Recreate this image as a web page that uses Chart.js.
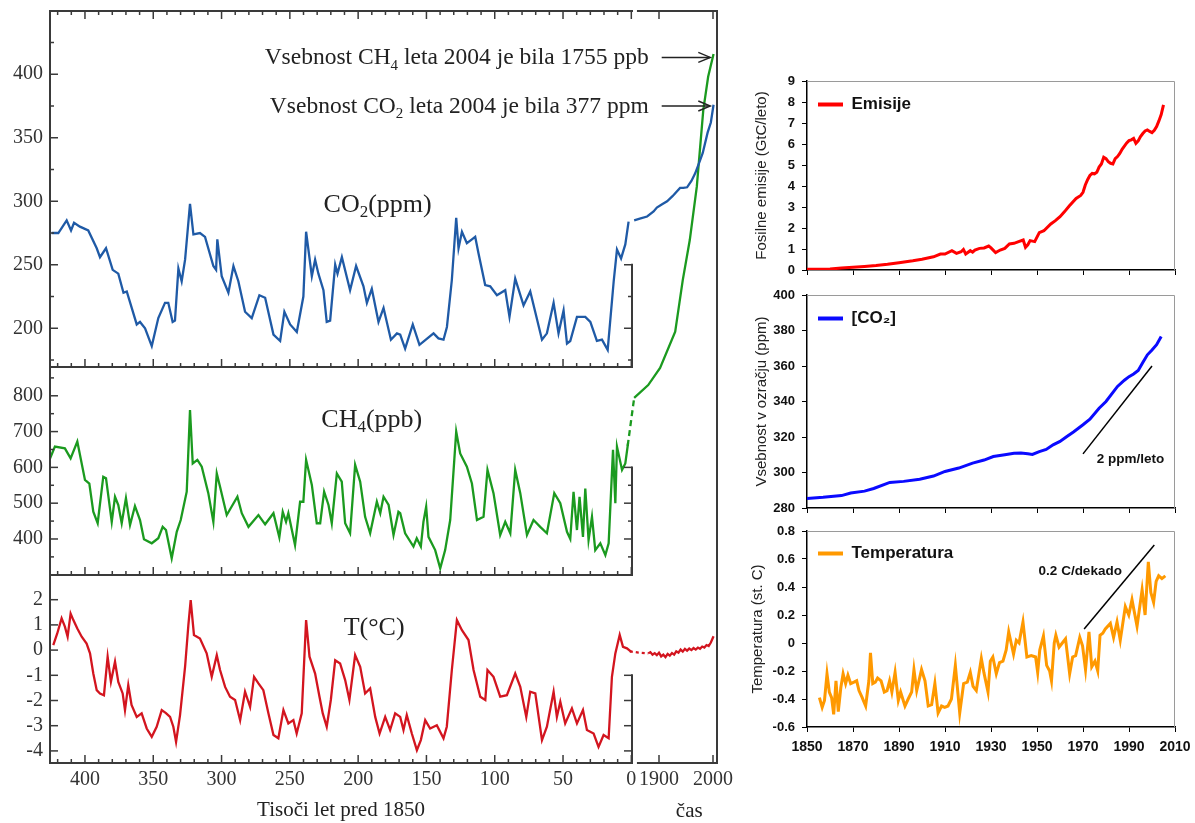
<!DOCTYPE html>
<html><head><meta charset="utf-8">
<script src="https://cdn.jsdelivr.net/npm/chart.js@4.4.1/dist/chart.umd.min.js"></script>
<style>
html,body{margin:0;padding:0;background:#fff;width:1195px;height:823px;overflow:hidden}
body{position:relative}
canvas{position:absolute}
#left{left:0;top:0;z-index:1}
#c1{left:740px;top:70px;z-index:2}
#c2{left:740px;top:280px;z-index:3}
#c3{left:740px;top:516px;z-index:4}
</style></head><body>
<canvas id="left" width="745" height="823"></canvas>
<canvas id="c1" width="455" height="215"></canvas>
<canvas id="c2" width="455" height="250"></canvas>
<canvas id="c3" width="455" height="250"></canvas>
<script>
// ---------------- DATA (left panel: ice core, [thousand years before 1850, value]) ----------------
const co2Paleo = [[424.4,275],[419.5,275],[413.4,285],[410.2,277],[408,283],[403.7,280],[397.6,277],[391.4,263],[389,256],[384.6,263],[379.7,246],[375.6,243],[371.8,228],[369.4,229],[362.1,203],[359.7,205],[356,200],[351.1,186],[346.3,208],[341.4,220],[339,220],[335.8,205],[334.1,206],[331.6,247],[329.2,237],[326.7,254],[323.1,298],[320.6,274],[315.8,275],[312.1,272],[306,249],[304,246],[303.1,270],[299.9,241],[295,228],[291.3,249],[287.7,237],[282.8,213],[277.9,208],[272.3,226],[268.1,224],[262,195],[257.1,190],[254,213],[249.8,203],[244.9,197],[240.1,225],[238.1,276],[233.9,241],[231.5,254],[229.1,243],[225.4,230],[223,205],[220.5,206],[216.8,250],[215.1,243],[211.9,256],[205.9,230],[201.5,249],[196.1,233],[193.6,220],[190,231],[185.1,205],[181.4,216],[176,191],[171.6,196],[169.2,195],[165.6,184],[160,203],[155.1,187],[144.8,196],[141.2,192],[137.5,191],[135,201],[131.4,238],[128.2,287],[126.5,263],[124,276],[120.4,267],[116.7,270],[114.3,272],[111.9,259],[107,234],[103.3,233],[98.4,226],[92.3,230],[89.2,209],[85,239],[78.9,218],[74,229],[65.4,191],[61.8,196],[56.9,220],[53.3,196],[49.6,214],[47.1,188],[44.7,190],[39.8,209],[33.7,209],[30,205],[25.2,190],[21.5,191],[17.3,183],[12.9,237],[10.5,262],[7.5,255],[4.4,266],[2,284]];
const ch4Paleo = [[425.6,625],[422,658],[414.7,653],[410.5,625],[405.6,672],[400,565],[396.8,555],[393.9,476],[390.7,444],[386.6,574],[384.6,570],[380.4,448],[378,518],[375.6,495],[373.1,444],[370,514],[367,439],[363.4,492],[359.7,453],[356.8,399],[351.1,388],[346.3,402],[343.1,434],[340.7,425],[336.5,346],[332.8,420],[329.9,453],[325.5,532],[323.1,760],[321.1,611],[317.7,621],[314.5,602],[309.7,528],[306,448],[303.5,583],[301.1,546],[296.2,467],[288.4,518],[285.2,472],[280.3,434],[273,467],[268.1,441],[262,472],[257.7,405],[255.2,476],[252.8,448],[251.1,472],[246.2,383],[242.5,504],[240.1,504],[238.1,621],[233.9,551],[230.3,444],[227.8,444],[224.9,532],[221.7,495],[219.3,444],[215.6,583],[212,560],[209.5,444],[205.9,416],[202.2,607],[198.5,560],[194.9,462],[191.2,416],[186.3,504],[183.8,472],[181.4,518],[177.7,495],[174.1,411],[170.5,476],[169.2,472],[165.6,416],[159.5,379],[157.1,402],[154.1,379],[152.2,448],[150.2,490],[148.5,406],[143.6,369],[139.9,318],[136.3,369],[132.6,453],[128.2,700],[125.3,639],[120.4,602],[116.7,555],[113,453],[108.2,462],[105.3,593],[100.9,528],[96,411],[92.3,448],[88.6,416],[85,593],[81.3,528],[76.4,411],[71.6,453],[66.7,434],[61.8,416],[56.4,528],[52,500],[47.1,420],[44.7,400],[42.3,532],[39.8,425],[37.9,518],[35.4,406],[33.7,541],[31.3,397],[28.8,462],[26.4,369],[22.7,388],[19,355],[16.6,388],[13.4,649],[11.7,500],[10.5,658],[6.8,593],[4.4,611],[2.4,667]];
const tPaleo = [[423.2,0.2],[420.3,0.66],[417.1,1.26],[414.7,0.93],[412.7,0.53],[410.5,1.45],[408.5,1.19],[405.6,0.86],[402.4,0.53],[398.8,0.26],[396.3,-0.13],[393.9,-0.93],[391.4,-1.59],[389,-1.72],[386.1,-1.79],[383.4,-0.26],[381,-1.26],[378,-0.46],[375.6,-1.26],[372.4,-1.72],[370.7,-2.38],[368.3,-1.39],[365.9,-2.18],[362.1,-2.65],[358.5,-2.51],[354.8,-3.11],[351.1,-3.44],[347.5,-3.04],[343.8,-2.38],[340.7,-2.5],[337.7,-2.65],[335.3,-3.04],[333.3,-3.64],[330.4,-2.58],[326.7,-0.66],[324.3,0.99],[322.6,1.98],[320.2,0.6],[315.8,0.46],[310.9,-0.13],[307.2,-1.06],[303.5,-0.2],[301.1,-0.79],[297.4,-1.46],[293.8,-1.85],[290.1,-1.98],[286.4,-2.78],[282.8,-1.65],[279.1,-2.25],[276.2,-1.06],[273,-1.32],[269.4,-1.59],[265.7,-2.51],[262,-3.37],[258.4,-3.5],[254.7,-2.38],[251.1,-2.91],[247.4,-2.78],[245,-3.31],[241.3,-2.51],[238.1,1.19],[235.6,-0.26],[231.5,-0.93],[228.3,-1.85],[225.9,-2.51],[223,-3.04],[220,-1.98],[216.8,-0.4],[213.2,-0.53],[209.5,-1.19],[206.4,-1.98],[202.2,-0.2],[198.5,-0.66],[194.9,-1.72],[191.2,-1.52],[187.5,-2.65],[184.3,-3.31],[180.2,-2.65],[176.6,-3.17],[172.9,-2.51],[169.2,-2.65],[166.8,-3.17],[164.4,-2.58],[160.7,-3.31],[157,-3.97],[154.1,-3.57],[150.9,-2.78],[147.3,-3.11],[142.4,-2.98],[137.5,-3.5],[135.1,-3.04],[131.4,-0.79],[127.7,1.19],[124,0.79],[119.2,0.4],[115.5,-0.79],[110.6,-1.85],[106.9,-1.98],[105.3,-0.79],[100.9,-1.06],[96,-1.85],[91.1,-1.79],[85,-0.93],[81.3,-1.46],[76.9,-2.65],[74,-1.65],[70.3,-1.72],[65.4,-3.57],[61.8,-3.04],[56.9,-1.65],[54.5,-2.65],[52,-2.05],[48.4,-2.91],[43.5,-2.31],[39.8,-2.91],[35.4,-2.38],[32.5,-3.17],[27.6,-3.31],[24,-3.84],[20.3,-3.37],[16.6,-3.5],[14.2,-1.06],[11.7,-0.13],[8.5,0.6],[6.1,0.13],[3.2,0.07],[0,-0.07]];

// left panel: instrumental era, [year, value]
const co2Modern = [[1854,285],[1866,286.5],[1878,288],[1890,292],[1896,295],[1905,297.5],[1915,300],[1925,304],[1939,310.5],[1945,310.5],[1952,311],[1960,316],[1967,322],[1975,331],[1981,338],[1990,354],[1996,362],[2001,376]];
const ch4Modern = [[1842,660],[1854,794],[1880,830],[1902,878],[1930,979],[1944,1123],[1957,1235],[1970,1384],[1982,1598],[1991,1691],[2001,1755]];
const tModern = [[1846,-0.05],[1862,-0.1],[1880,-0.13],[1884,-0.08],[1888,-0.18],[1892,-0.12],[1896,-0.2],[1900,-0.1],[1904,-0.25],[1908,-0.18],[1912,-0.28],[1916,-0.15],[1920,-0.22],[1924,-0.12],[1928,-0.18],[1932,-0.05],[1936,-0.1],[1940,0.02],[1944,-0.06],[1948,0.05],[1952,-0.02],[1956,0.06],[1960,0.0],[1964,0.08],[1968,0.02],[1972,0.1],[1976,0.05],[1980,0.14],[1984,0.1],[1988,0.2],[1992,0.16],[1996,0.3],[1998,0.4],[2001,0.55]];
const CH4_DASH_END = 1854;   // dashed connector up to this year
const T_DOT_END = 1880;      // dotted connector up to this year

// left panel ticks
const co2Ticks = [175,200,225,250,275,300,325,350,375,400,425];
const ch4Ticks = [350,400,450,500,550,600,650,700,750,800,850];
const tTicks = [-4,-3,-2,-1,0,1,2];
const paleoTicks = [0,10,20,30,40,50,60,70,80,90,100,110,120,130,140,150,160,170,180,190,200,210,220,230,240,250,260,270,280,290,300,310,320,330,340,350,360,370,380,390,400,410,420];
const modernTicks = [1900,2000];
const MODERN_AXIS_START = 1861;   // where the drawn time axis of the modern part begins
const CO2_RIGHT_TOP = 250, CH4_RIGHT_TOP = 600, T_RIGHT_TOP = -1;

// ---------------- DATA (right panels) ----------------
const emYear = [1850,1855,1860,1865,1870,1875,1880,1885,1890,1896,1900,1903,1905,1908,1910,1913,1915,1917,1918,1919,1921,1922,1923,1925,1927,1929,1930,1932,1934,1936,1938,1940,1942,1944,1945,1946,1947,1949,1951,1953,1956,1958,1960,1962,1964,1967,1969,1970,1971,1972,1973,1974,1975,1976,1977,1978,1979,1980,1981,1982,1983,1984,1985,1986,1987,1988,1989,1990,1991,1992,1993,1994,1995,1996,1997,1998,1999,2000,2001,2002,2003,2004,2005];
const emGtC = [0.03,0.04,0.05,0.09,0.13,0.17,0.21,0.27,0.35,0.44,0.51,0.58,0.63,0.76,0.76,0.92,0.79,0.87,0.98,0.76,0.92,0.85,0.95,1.03,1.05,1.14,1.05,0.83,0.95,1.03,1.24,1.27,1.35,1.43,1.08,1.2,1.4,1.35,1.78,1.87,2.19,2.35,2.54,2.78,3.05,3.41,3.55,3.7,4.05,4.3,4.5,4.6,4.58,4.65,4.9,5.05,5.37,5.3,5.16,5.08,5.05,5.3,5.4,5.55,5.75,5.9,6.05,6.16,6.2,6.27,6.03,6.15,6.35,6.5,6.62,6.67,6.6,6.54,6.65,6.83,7.1,7.4,7.86];

const co2Year = [1848,1857,1865,1869,1875,1879,1886,1892,1899,1905,1910,1916,1922,1927,1931,1936,1940,1943,1946,1948,1951,1954,1957,1960,1963,1966,1970,1973,1977,1980,1985,1988,1990,1992,1994,1996,1998,2000,2002,2004];
const co2Ppm = [285.2,286,287,288.4,289.5,291,294.4,295,296.2,298,300.6,302.5,305.3,307,309,310,310.9,311,310.5,310.2,311.8,313,315.6,317.5,320.3,323,326.9,330,336.2,340,348.5,352,354,355.5,357.5,362,366.3,369,372,376.6];
const co2TrendYear = [1970,2000], co2TrendPpm = [310.5,360];

const tempYear = [1855.4,1856.6,1857.6,1858.7,1859.7,1860.7,1861.6,1862.6,1863.6,1864.7,1865.7,1866.8,1867.8,1869.0,1870.4,1871.6,1872.6,1874.0,1875.5,1876.9,1877.6,1878.6,1879.7,1880.7,1882.2,1883.6,1884.8,1885.9,1886.9,1888.3,1889.7,1890.7,1892.6,1894.0,1895.5,1896.5,1897.7,1899.8,1901.3,1902.7,1904.2,1905.6,1907.0,1908.5,1909.9,1911.3,1912.8,1914.5,1916.4,1918.1,1919.7,1921.0,1922.2,1923.6,1925.8,1926.9,1928.7,1929.7,1930.8,1932.3,1933.7,1935.2,1936.6,1937.7,1939.8,1941.0,1942.2,1943.9,1945.6,1947.5,1949.4,1950.3,1951.2,1952.8,1954.2,1955.5,1956.3,1957.5,1958.2,1959.6,1961.0,1962.4,1964.2,1965.5,1966.8,1968.6,1969.8,1971.1,1972.6,1973.8,1975.2,1976.4,1977.4,1978.6,1979.7,1981.9,1983.3,1984.8,1986.2,1988.4,1989.9,1991.3,1993.5,1995.7,1997.0,1998.4,1999.5,2000.7,2001.8,2002.9,2004.3,2005.8];
const tempC = [-0.39,-0.46,-0.41,-0.22,-0.35,-0.39,-0.51,-0.27,-0.49,-0.32,-0.22,-0.29,-0.23,-0.29,-0.28,-0.27,-0.34,-0.39,-0.45,-0.27,-0.07,-0.29,-0.28,-0.25,-0.27,-0.35,-0.34,-0.27,-0.35,-0.21,-0.41,-0.35,-0.45,-0.40,-0.35,-0.19,-0.34,-0.19,-0.27,-0.45,-0.44,-0.29,-0.50,-0.45,-0.46,-0.45,-0.40,-0.16,-0.50,-0.29,-0.28,-0.21,-0.31,-0.34,-0.11,-0.21,-0.35,-0.13,-0.10,-0.22,-0.14,-0.13,-0.05,0.08,-0.08,0.02,0.00,0.15,-0.10,-0.09,-0.10,-0.21,-0.05,0.05,-0.16,-0.20,-0.27,0.00,0.055,-0.03,0.00,0.03,-0.22,-0.10,-0.09,0.04,-0.02,-0.19,0.08,-0.17,-0.13,-0.20,0.055,0.07,0.10,0.14,0.04,0.15,0.02,0.26,0.20,0.31,0.12,0.38,0.20,0.58,0.36,0.29,0.44,0.48,0.46,0.48];
const tempTrendYear = [1970.5,2001], tempTrendC = [0.10,0.70];

// ---------------- STYLE ----------------
const SERIF = "'Liberation Serif','Times New Roman',serif";
const SANS = "'Liberation Sans',Arial,sans-serif";
const BLUE = '#1f5aa6', GREEN = '#1b9a1f', RED = '#d3151f', FRAME = '#3a3a3a';

const pairs = a => a.map(p => ({x: p[0], y: p[1]}));
const zip = (xs, ys) => xs.map((x, i) => ({x, y: ys[i]}));

function drawRich(ctx, parts, x, y, size, align, color) {
  const f = sub => `${sub ? Math.round(size * 0.65) : size}px ${SERIF}`;
  let w = 0;
  for (const [t, sub] of parts) { ctx.font = f(sub); w += ctx.measureText(t).width; }
  let cx = align === 'right' ? x - w : align === 'center' ? x - w / 2 : x;
  ctx.fillStyle = color; ctx.textAlign = 'left'; ctx.textBaseline = 'alphabetic';
  for (const [t, sub] of parts) {
    ctx.font = f(sub);
    ctx.fillText(t, cx, sub ? y + size * 0.22 : y);
    cx += ctx.measureText(t).width;
  }
}

// texts of the left panel (anchored in data coordinates)
const panelLabels = [
  {parts: [['CO', 0], ['2', 1], ['(ppm)', 0]], scale: 'yCO2', k: 185.7, v: 291.8},
  {parts: [['CH', 0], ['4', 1], ['(ppb)', 0]], scale: 'yCH4', k: 190, v: 713.7},
  {parts: [['T(°C)', 0]], scale: 'yT', k: 188.3, v: 0.6}
];
const notes = [
  {parts: [['Vsebnost CH', 0], ['4', 1], [' leta 2004 je bila 1755 ppb', 0]], scale: 'yCH4', v: 1745},
  {parts: [['Vsebnost CO', 0], ['2', 1], [' leta 2004 je bila 377 ppm', 0]], scale: 'yCO2', v: 375}
];
const ARROW_FROM = 1905, ARROW_TO = 1995, NOTE_END = 1881, CAS_YEAR = 1956;

const leftFrame = {
  id: 'leftFrame',
  afterDraw(chart) {
    const {ctx, chartArea: a, scales: s} = chart;
    const px = s.xPaleo, mx = s.xModern;
    const L = px.left, PR = px.right, ML = mx.getPixelForValue(MODERN_AXIS_START), MR = mx.right, T = a.top, B = a.bottom;
    const seg = (x1, y1, x2, y2) => { ctx.beginPath(); ctx.moveTo(x1, y1); ctx.lineTo(x2, y2); ctx.stroke(); };
    ctx.save();
    ctx.strokeStyle = FRAME; ctx.lineCap = 'square'; ctx.lineWidth = 2;
    seg(L, T, L, B); seg(L, T, PR, T); seg(ML, T, MR, T); seg(MR, T, MR, B); seg(ML, B, MR, B);
    const bands = [[s.yCO2, CO2_RIGHT_TOP, 50], [s.yCH4, CH4_RIGHT_TOP, 100], [s.yT, T_RIGHT_TOP, 1]];
    for (const [sc, top] of bands) { seg(L, sc.bottom, PR, sc.bottom); seg(PR, sc.getPixelForValue(top), PR, sc.bottom); }
    ctx.lineWidth = 1.5; ctx.lineCap = 'butt';
    for (const [sc, top, major] of bands) for (const t of sc.ticks) {
      const y = sc.getPixelForValue(t.value);
      const len = Math.abs(t.value % major) < 1e-9 ? 8 : 4;
      seg(L, y, L + len, y);
      if (t.value <= top + 1e-9) seg(PR, y, PR - len, y);
    }
    for (const t of px.ticks) {
      const x = px.getPixelForValue(t.value);
      const len = t.value % 50 === 0 ? 8 : 4;
      seg(x, T, x, T + len);
      for (const [sc] of bands) seg(x, sc.bottom, x, sc.bottom - len);
    }
    for (const t of mx.ticks) { const x = mx.getPixelForValue(t.value); seg(x, T, x, T + 8); seg(x, B, x, B - 8); }
    // panel labels
    for (const lb of panelLabels) drawRich(ctx, lb.parts, px.getPixelForValue(lb.k), s[lb.scale].getPixelForValue(lb.v), 26, 'center', '#222');
    // axis name of the modern part
    ctx.font = `21px ${SERIF}`; ctx.fillStyle = '#222'; ctx.textAlign = 'center'; ctx.textBaseline = 'middle';
    ctx.fillText('čas', mx.getPixelForValue(CAS_YEAR), px.bottom - 12);
    // notes with arrows
    ctx.strokeStyle = '#222'; ctx.lineWidth = 1.4;
    for (const n of notes) {
      const y = s[n.scale].getPixelForValue(n.v);
      const x0 = mx.getPixelForValue(ARROW_FROM), x1 = mx.getPixelForValue(ARROW_TO);
      seg(x0, y, x1, y);
      ctx.beginPath(); ctx.moveTo(x1 - 12, y - 5); ctx.lineTo(x1, y); ctx.lineTo(x1 - 12, y + 5); ctx.stroke();
      drawRich(ctx, n.parts, mx.getPixelForValue(NOTE_END), y + 7, 23.5, 'right', '#222');
    }
    ctx.restore();
  }
};

const yLeft = (min, max, weight, stackWeight, vals, labelFn) => ({
  type: 'linear', position: 'left', stack: 'ls', stackWeight, weight, min, max,
  grid: {display: false, drawTicks: false}, border: {display: false},
  afterBuildTicks: sc => { sc.ticks = vals.map(v => ({value: v})); },
  afterFit: sc => { sc.width = 50; sc.paddingTop = 0; sc.paddingBottom = 0; },
  ticks: {font: {family: SERIF, size: 20}, color: '#333', padding: 7, autoSkip: false, callback: labelFn}
});
const xFit = sc => { sc.height = 60; sc.paddingLeft = 0; sc.paddingRight = 0; };

new Chart(document.getElementById('left'), {
  type: 'line',
  data: {datasets: [
    {data: pairs(co2Paleo), xAxisID: 'xPaleo', yAxisID: 'yCO2', borderColor: BLUE},
    {data: pairs(co2Modern), xAxisID: 'xModern', yAxisID: 'yCO2', borderColor: BLUE, clip: false},
    {data: pairs(ch4Paleo), xAxisID: 'xPaleo', yAxisID: 'yCH4', borderColor: GREEN},
    {data: pairs(ch4Modern), xAxisID: 'xModern', yAxisID: 'yCH4', borderColor: GREEN, clip: false,
      segment: {borderDash: c => ch4Modern[c.p1DataIndex][0] <= CH4_DASH_END ? [6, 4] : undefined}},
    {data: pairs(tPaleo), xAxisID: 'xPaleo', yAxisID: 'yT', borderColor: RED},
    {data: pairs(tModern), xAxisID: 'xModern', yAxisID: 'yT', borderColor: RED, clip: false,
      segment: {borderDash: c => tModern[c.p1DataIndex][0] <= T_DOT_END ? [3, 3] : undefined}}
  ]},
  options: {
    responsive: false, animation: false, devicePixelRatio: 1,
    layout: {padding: {left: 0, top: 11, right: 28, bottom: 0}},
    elements: {line: {borderWidth: 2.3, tension: 0, fill: false}, point: {radius: 0}},
    plugins: {legend: {display: false}, tooltip: {enabled: false}},
    scales: {
      yCO2: yLeft(169.5, 449.8, 3, 356, co2Ticks, v => v % 50 === 0 ? String(v) : ''),
      yCH4: yLeft(299.4, 880.4, 2, 208, ch4Ticks, v => v % 100 === 0 ? String(v) : ''),
      yT: yLeft(-4.48, 2.98, 1, 188, tTicks, v => String(v)),
      xPaleo: {type: 'linear', position: 'bottom', stack: 'bs', stackWeight: 582, weight: 1, reverse: true, min: -0.5, max: 425.6,
        grid: {display: false, drawTicks: false}, border: {display: false},
        afterBuildTicks: sc => { sc.ticks = paleoTicks.map(v => ({value: v})); }, afterFit: xFit,
        ticks: {font: {family: SERIF, size: 20}, color: '#333', padding: 5, autoSkip: false, maxRotation: 0, minRotation: 0,
          callback: v => v % 50 === 0 ? String(v) : ''},
        title: {display: true, text: 'Tisoči let pred 1850', font: {family: SERIF, size: 21}, color: '#222', padding: {top: 0, bottom: 0}}},
      xModern: {type: 'linear', position: 'bottom', stack: 'bs', stackWeight: 85, weight: 2, min: 1850, max: 2007.4,
        grid: {display: false, drawTicks: false}, border: {display: false},
        afterBuildTicks: sc => { sc.ticks = modernTicks.map(v => ({value: v})); }, afterFit: xFit,
        ticks: {font: {family: SERIF, size: 20}, color: '#333', padding: 5, autoSkip: false, maxRotation: 0, minRotation: 0,
          callback: v => String(v)}}
    }
  },
  plugins: [leftFrame]
});

// ---------------- right charts ----------------
const rightFrame = {
  id: 'rightFrame',
  beforeDatasetsDraw(chart) {
    const {ctx, chartArea: a} = chart;
    ctx.save(); ctx.strokeStyle = '#9a9a9a'; ctx.lineWidth = 1;
    ctx.beginPath(); ctx.moveTo(a.left, a.top + 0.5); ctx.lineTo(a.right - 0.5, a.top + 0.5); ctx.lineTo(a.right - 0.5, a.bottom); ctx.stroke();
    ctx.restore();
  },
  afterDatasetsDraw(chart, args, opts) {
    if (!opts.note) return;
    const {ctx, scales: {x, y}} = chart;
    ctx.save(); ctx.font = `bold 13.5px ${SANS}`; ctx.fillStyle = '#111'; ctx.textAlign = 'left'; ctx.textBaseline = 'middle';
    ctx.fillText(opts.note.text, x.getPixelForValue(opts.note.x), y.getPixelForValue(opts.note.y));
    ctx.restore();
  }
};

function rightChart(id, o) {
  const ds = [{label: o.label, data: zip(o.xs, o.ys), borderColor: o.color, backgroundColor: o.color, borderWidth: 3}];
  if (o.trendX) ds.push({label: 'trend', data: zip(o.trendX, o.trendY), borderColor: '#000', borderWidth: 1.5});
  return new Chart(document.getElementById(id), {
    type: 'line',
    data: {datasets: ds},
    options: {
      responsive: false, animation: false, devicePixelRatio: 1,
      layout: {padding: {left: 0, top: o.padTop, right: 20, bottom: o.padBottom}},
      elements: {point: {radius: 0}, line: {tension: 0, fill: false}},
      plugins: {
        tooltip: {enabled: false},
        legend: {position: 'chartArea', align: 'start',
          title: {display: true, text: ' ', font: {size: 10}, padding: {top: o.legendGap, bottom: 0}},
          labels: {boxWidth: 25, boxHeight: 4, padding: 11, color: '#111', font: {family: SANS, size: 17, weight: 'bold'},
            generateLabels: () => [{text: o.label, fillStyle: o.color, strokeStyle: o.color, fontColor: '#111', lineWidth: 0, datasetIndex: 0, hidden: false}]}},
        rightFrame: {note: o.note}
      },
      scales: {
        x: {type: 'linear', min: 1850, max: 2010,
          ticks: {stepSize: 20, display: o.xLabels, color: '#111', font: {family: SANS, size: 14, weight: 'bold'}, padding: 7, maxRotation: 0, autoSkip: false,
            callback: v => String(v)},
          grid: {display: true, drawOnChartArea: false, drawTicks: true, tickLength: 5, color: '#000'},
          border: {display: true, color: '#000', width: 1.5},
          afterFit: sc => { sc.height = o.xH; sc.paddingLeft = 0; sc.paddingRight = 0; }},
        y: {type: 'linear', min: o.yMin, max: o.yMax,
          ticks: {stepSize: o.yStep, color: '#111', font: {family: SANS, size: 13, weight: 'bold'}, padding: 7, callback: o.yFmt},
          grid: {display: true, drawOnChartArea: false, drawTicks: true, tickLength: 5, color: '#000'},
          border: {display: true, color: '#000', width: 1.5},
          title: {display: true, text: o.yTitle, color: '#222', font: {family: SANS, size: 15}, padding: {top: o.titlePad, bottom: 0}},
          afterFit: sc => { sc.width = 67; sc.paddingTop = 0; sc.paddingBottom = 0; }}
      }
    },
    plugins: [rightFrame]
  });
}

rightChart('c1', {label: 'Emisije', color: '#ff0000', xs: emYear, ys: emGtC, yMin: 0, yMax: 9, yStep: 1,
  yFmt: v => String(v), yTitle: 'Fosilne emisije (GtC/leto)', titlePad: 13, padTop: 11, padBottom: 5, xH: 10, xLabels: false, legendGap: 3});
rightChart('c2', {label: '[CO₂]', color: '#0a0aff', xs: co2Year, ys: co2Ppm, trendX: co2TrendYear, trendY: co2TrendPpm,
  yMin: 280, yMax: 400, yStep: 20, yFmt: v => String(v), yTitle: 'Vsebnost v ozračju (ppm)', titlePad: 13,
  padTop: 15, padBottom: 14, xH: 8, xLabels: false, legendGap: 7, note: {text: '2 ppm/leto', x: 1976, y: 307.2}});
rightChart('c3', {label: 'Temperatura', color: '#ff9900', xs: tempYear, ys: tempC, trendX: tempTrendYear, trendY: tempTrendC,
  yMin: -0.6, yMax: 0.8, yStep: 0.2, yFmt: v => Math.abs(v) < 1e-9 ? '0' : String(Math.round(v * 10) / 10),
  yTitle: 'Temperatura (st. C)', titlePad: 9, padTop: 15, padBottom: 7, xH: 32, xLabels: true, legendGap: 6,
  note: {text: '0.2 C/dekado', x: 1950.7, y: 0.51}});
</script>
</body></html>
